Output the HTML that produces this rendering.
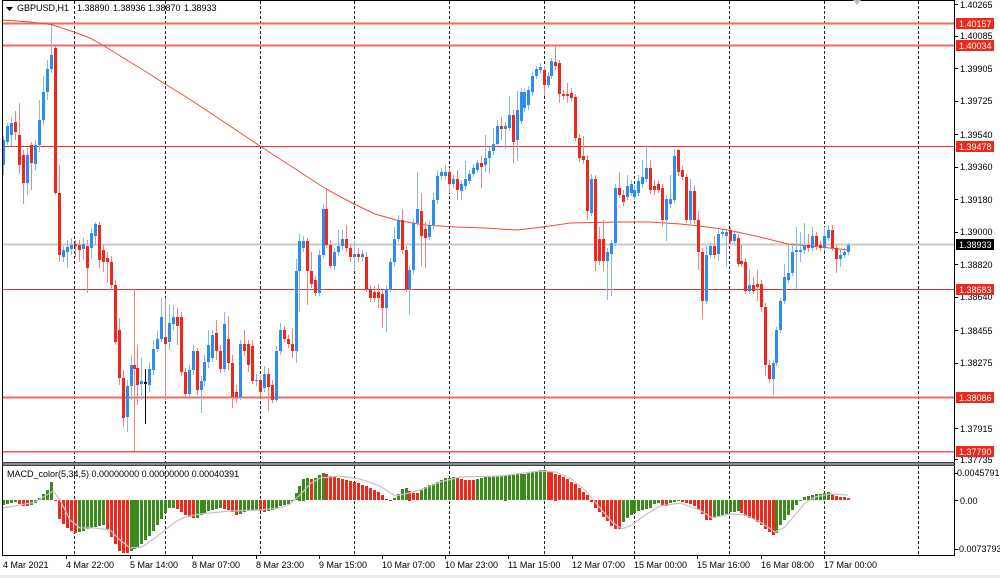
<!DOCTYPE html>
<html><head><meta charset="utf-8">
<style>
html,body{margin:0;padding:0;background:#fff;}
svg{display:block;}
text{font-family:"Liberation Sans",Arial,sans-serif;font-size:9px;fill:#000;}
.w{fill:#fff;}
</style></head><body>
<svg id="c" width="1000" height="578" viewBox="0 0 1000 578" xmlns="http://www.w3.org/2000/svg">
<rect x="0" y="0" width="1000" height="578" fill="#fff"/>
<rect x="0" y="575" width="1000" height="3" fill="#ececec"/>
<defs>
<clipPath id="mainclip"><rect x="3" y="1" width="951" height="461"/></clipPath>
<clipPath id="macdclip"><rect x="3" y="466" width="951" height="89"/></clipPath>
</defs>
<g stroke="#222" stroke-width="1" stroke-dasharray="3,2" shape-rendering="crispEdges">
<line x1="74.5" y1="1" x2="74.5" y2="555"/>
<line x1="165.5" y1="1" x2="165.5" y2="555"/>
<line x1="260.5" y1="1" x2="260.5" y2="555"/>
<line x1="354.5" y1="1" x2="354.5" y2="555"/>
<line x1="449.5" y1="1" x2="449.5" y2="555"/>
<line x1="544.5" y1="1" x2="544.5" y2="555"/>
<line x1="634.5" y1="1" x2="634.5" y2="555"/>
<line x1="729.5" y1="1" x2="729.5" y2="555"/>
<line x1="824.5" y1="1" x2="824.5" y2="555"/>
<line x1="918.5" y1="1" x2="918.5" y2="555"/>
</g>
<g shape-rendering="crispEdges">
<line x1="3" y1="23.5" x2="954" y2="23.5" stroke="#f26a5e" stroke-width="2"/>
<line x1="3" y1="45.5" x2="954" y2="45.5" stroke="#f26a5e" stroke-width="2"/>
<line x1="3" y1="146.5" x2="954" y2="146.5" stroke="#ee3226" stroke-width="1"/>
<line x1="3" y1="244.5" x2="954" y2="244.5" stroke="#c8c8c8" stroke-width="2"/>
<line x1="3" y1="289.5" x2="954" y2="289.5" stroke="#ee3226" stroke-width="1"/>
<line x1="3" y1="397.5" x2="954" y2="397.5" stroke="#f26a5e" stroke-width="2"/>
<line x1="3" y1="451.5" x2="954" y2="451.5" stroke="#f0554a" stroke-width="1.5"/>
</g>
<polyline fill="none" stroke="#f04a3c" stroke-width="1" points="3,20 30,22 51,24.5 74,32 90,38 104,46 117,54 130,62 148,73 165,84 183,95 200,106 215,116 230,126 245,136 260,146 280,159 300,172 326,189 354,204 375,214 398,220.5 425,225 455,227 485,228 517,230 543,227 570,223 617,222 650,222 680,224 700,226 728,230 760,237 788,244 820,247 848,250"/>
<g id="cg" clip-path="url(#mainclip)"></g>
<g id="mg" clip-path="url(#macdclip)"></g>
<g shape-rendering="crispEdges" fill="none">
<rect x="2" y="462" width="953" height="4" fill="#8a8a8a" stroke="none"/>
<line x1="2" y1="0.5" x2="954" y2="0.5" stroke="#000"/>
<line x1="2.5" y1="0" x2="2.5" y2="556" stroke="#000"/>
<line x1="954.5" y1="0" x2="954.5" y2="556" stroke="#000"/>
<line x1="2" y1="555.5" x2="955" y2="555.5" stroke="#000"/>
<line x1="2" y1="462.5" x2="955" y2="462.5" stroke="#444"/>
<line x1="2" y1="465.5" x2="955" y2="465.5" stroke="#444"/>
</g>
<polygon points="853,0 861,0 857,5" fill="#bdbdbd"/>
<polygon points="6,7 13,7 9.5,11" fill="#000"/>
<text x="17" y="11">GBPUSD,H1</text>
<text x="77" y="11">1.38890</text>
<text x="113" y="11">1.38936</text>
<text x="148" y="11">1.38870</text>
<text x="184" y="11">1.38933</text>
<text x="7" y="477">MACD_color(5,34,5) 0.00000000 0.00000000 0.00040391</text>
<g stroke="#000" shape-rendering="crispEdges">
<line x1="955" y1="4.5" x2="958" y2="4.5"/>
<line x1="955" y1="36.5" x2="958" y2="36.5"/>
<line x1="955" y1="68.5" x2="958" y2="68.5"/>
<line x1="955" y1="101.5" x2="958" y2="101.5"/>
<line x1="955" y1="134.5" x2="958" y2="134.5"/>
<line x1="955" y1="167.5" x2="958" y2="167.5"/>
<line x1="955" y1="199.5" x2="958" y2="199.5"/>
<line x1="955" y1="232.5" x2="958" y2="232.5"/>
<line x1="955" y1="264.5" x2="958" y2="264.5"/>
<line x1="955" y1="297.5" x2="958" y2="297.5"/>
<line x1="955" y1="330.5" x2="958" y2="330.5"/>
<line x1="955" y1="363.5" x2="958" y2="363.5"/>
<line x1="955" y1="428.5" x2="958" y2="428.5"/>
<line x1="955" y1="459.5" x2="958" y2="459.5"/>
<line x1="955" y1="473.5" x2="958" y2="473.5"/>
<line x1="955" y1="500.5" x2="958" y2="500.5"/>
<line x1="955" y1="549.5" x2="958" y2="549.5"/>
</g>
<g>
<text x="960" y="8">1.40265</text>
<text x="960" y="39">1.40085</text>
<text x="960" y="72">1.39905</text>
<text x="960" y="104">1.39725</text>
<text x="960" y="138">1.39540</text>
<text x="960" y="170">1.39360</text>
<text x="960" y="203">1.39180</text>
<text x="960" y="235">1.39000</text>
<text x="960" y="268">1.38820</text>
<text x="960" y="300">1.38640</text>
<text x="960" y="334">1.38455</text>
<text x="960" y="366">1.38275</text>
<text x="960" y="432">1.37915</text>
<text x="960" y="463">1.37735</text>
<text x="957" y="476">0.0045791</text>
<text x="960" y="504">0.00</text>
<text x="956" y="552">-0.0073793</text>
</g>
<g>
<rect x="956" y="18" width="38" height="11" fill="#f0281c"/><text class="w" x="959" y="27">1.40157</text>
<rect x="956" y="40" width="38" height="11" fill="#f0281c"/><text class="w" x="959" y="49">1.40034</text>
<rect x="956" y="141" width="38" height="11" fill="#f0281c"/><text class="w" x="959" y="150">1.39478</text>
<rect x="956" y="239" width="38" height="11" fill="#000"/><text class="w" x="959" y="248">1.38933</text>
<rect x="956" y="284" width="38" height="11" fill="#f0281c"/><text class="w" x="959" y="293">1.38683</text>
<rect x="956" y="392" width="38" height="11" fill="#f0281c"/><text class="w" x="959" y="401">1.38086</text>
<rect x="956" y="446" width="38" height="11" fill="#f0281c"/><text class="w" x="959" y="455">1.37790</text>
</g>
<g stroke="#000" shape-rendering="crispEdges">
<line x1="66.5" y1="556" x2="66.5" y2="559"/>
<line x1="130.5" y1="556" x2="130.5" y2="559"/>
<line x1="192.5" y1="556" x2="192.5" y2="559"/>
<line x1="256.5" y1="556" x2="256.5" y2="559"/>
<line x1="319.5" y1="556" x2="319.5" y2="559"/>
<line x1="382.5" y1="556" x2="382.5" y2="559"/>
<line x1="445.5" y1="556" x2="445.5" y2="559"/>
<line x1="508.5" y1="556" x2="508.5" y2="559"/>
<line x1="572.5" y1="556" x2="572.5" y2="559"/>
<line x1="634.5" y1="556" x2="634.5" y2="559"/>
<line x1="697.5" y1="556" x2="697.5" y2="559"/>
<line x1="761.5" y1="556" x2="761.5" y2="559"/>
<line x1="824.5" y1="556" x2="824.5" y2="559"/>
</g>
<g>
<text x="3" y="568">4 Mar 2021</text>
<text x="66" y="568">4 Mar 22:00</text>
<text x="130" y="568">5 Mar 14:00</text>
<text x="192" y="568">8 Mar 07:00</text>
<text x="256" y="568">8 Mar 23:00</text>
<text x="319" y="568">9 Mar 15:00</text>
<text x="382" y="568">10 Mar 07:00</text>
<text x="445" y="568">10 Mar 23:00</text>
<text x="508" y="568">11 Mar 15:00</text>
<text x="572" y="568">12 Mar 07:00</text>
<text x="634" y="568">15 Mar 00:00</text>
<text x="697" y="568">15 Mar 16:00</text>
<text x="761" y="568">16 Mar 08:00</text>
<text x="824" y="568">17 Mar 00:00</text>
</g>
</svg>
<script>
var D=[
[3,0,140,165,136,175],[7,0,126,142,123,145],[11,0,123,135,117,146],[15,1,122,132,111,140],[19,1,135,165,103,174],[23,1,155,183,150,204],[27,0,155,183,148,195],[31,1,145,163,142,190],[35,0,145,164,140,170],[39,0,120,145,100,152],[43,0,92,120,76,125],[47,0,69,92,60,100],[51,0,55,69,25,73],[55,1,48,193,46,195],[59,1,193,255,165,262],[63,0,250,257,246,262],[67,0,247,252,240,268],[71,0,245,249,238,255],[75,1,244,246,240,257],[79,1,245,250,240,262],[83,0,244,249,238,260],[87,1,246,268,240,293],[91,0,233,248,228,258],[95,0,224,236,222,245],[99,1,225,260,222,268],[103,1,250,262,245,272],[107,1,258,262,252,283],[111,1,262,285,256,290],[115,1,285,342,280,345],[119,1,330,378,318,385],[123,1,378,418,370,427],[127,0,386,417,380,432],[131,0,365,386,355,400],[134,1,365,369,289,451],[137,1,368,385,345,405],[141,0,381,384,358,400],[145,2,382,384,369,424],[149,0,369,385,362,392],[153,0,349,370,340,375],[157,0,339,349,330,352],[161,0,317,339,298,342],[165,1,337,344,298,400],[169,0,323,342,305,350],[173,0,317,324,305,330],[177,1,317,326,308,345],[181,1,317,372,312,376],[185,1,372,394,368,397],[189,0,370,394,365,397],[193,0,351,370,345,375],[197,1,351,390,348,395],[201,0,381,390,376,413],[204,0,362,381,355,386],[208,0,345,362,330,368],[212,0,335,358,330,362],[216,1,333,351,320,360],[220,1,351,369,345,373],
[224,0,324,369,312,372],[228,1,339,363,316,370],[232,1,363,397,355,408],[236,1,392,397,385,403],[240,0,344,397,340,400],[244,1,344,351,330,356],[248,1,344,365,340,372],[252,1,346,381,340,384],[256,0,380,381,374,386],[260,1,380,392,375,396],[264,0,374,388,366,392],[268,1,374,387,368,411],[272,1,385,400,380,403],[276,0,351,400,346,402],[280,0,330,351,323,355],[284,1,330,339,326,342],[288,1,339,344,335,348],[292,1,344,351,328,358],[296,0,271,351,259,363],[299,0,241,271,234,312],[303,0,241,248,236,252],[307,1,241,271,238,305],[311,1,271,284,252,288],[315,1,280,293,276,296],[319,0,255,293,250,296],[323,0,209,255,204,258],[326,1,209,245,188,248],[330,1,245,266,240,268],[334,0,252,266,248,270],[338,0,246,252,230,256],[342,0,239,246,230,250],[346,1,239,248,225,252],[350,1,248,257,244,262],[354,0,254,257,241,270],[358,1,254,257,248,262],[362,0,254,257,250,262],[366,1,257,289,252,292],[370,1,289,298,285,302],[374,1,292,298,286,302],[378,1,292,298,284,308],[382,1,294,308,290,328],[386,0,289,308,285,332],[390,0,262,289,258,292],[394,0,239,262,227,266],[398,0,220,239,215,242],[402,1,220,250,209,254],[406,1,250,289,246,292],[409,0,270,289,266,314],[413,0,223,270,219,274],[417,0,209,223,172,226],[421,1,211,236,193,266],[425,1,229,238,222,268],[429,0,225,237,220,240],[433,0,200,225,193,230],[437,0,176,200,170,204],[441,0,172,176,168,180],[445,0,172,176,165,180],[449,1,172,184,168,193],
[453,0,179,184,175,188],[457,1,179,190,170,200],[461,0,184,191,180,200],[465,0,179,186,161,190],[469,0,174,181,170,184],[473,0,168,174,164,177],[477,0,163,170,160,173],[481,1,163,167,156,188],[485,0,158,165,135,172],[489,0,151,158,147,174],[493,0,144,151,128,155],[497,0,126,144,120,147],[501,1,126,129,117,140],[505,0,126,129,122,149],[509,0,115,128,96,131],[513,1,115,142,110,163],[517,0,110,140,91,161],[521,0,92,121,88,124],[524,0,92,108,88,112],[528,0,90,105,86,110],[532,0,76,92,72,96],[536,0,69,76,66,79],[540,0,67,70,63,74],[544,1,70,85,66,96],[548,0,76,85,72,88],[551,0,61,76,58,79],[555,1,62,66,46,70],[559,1,63,94,60,103],[563,1,94,96,90,100],[567,1,94,96,83,103],[571,1,93,98,88,101],[575,1,97,138,94,141],[579,1,138,158,134,162],[583,1,156,160,136,164],[587,1,160,211,155,220],[591,0,179,213,174,216],[595,1,179,261,175,271],[599,1,239,261,227,265],[603,1,239,261,220,271],[607,0,252,261,248,300],[611,0,243,254,240,296],[615,0,188,243,184,246],[619,1,188,195,172,198],[623,1,195,202,190,206],[627,0,186,197,175,200],[631,0,184,193,180,196],[634,0,190,197,185,200],[638,0,181,193,175,196],[642,0,177,184,160,188],[646,0,168,179,145,182],[650,1,168,190,160,194],[654,1,186,190,180,195],[658,1,184,190,180,193],[662,1,188,220,184,227],[666,0,199,220,195,241],[670,0,199,204,175,208],[674,0,156,200,149,203],
[678,1,150,172,149,176],[682,1,170,177,166,180],[686,1,177,220,174,223],[690,0,191,220,179,224],[694,1,191,220,186,224],[698,1,220,252,211,270],[702,1,252,301,248,319],[706,0,255,301,246,304],[710,0,246,255,243,258],[714,1,246,255,236,259],[718,0,234,254,230,261],[722,0,232,234,230,237],[726,0,232,236,230,266],[730,1,230,241,228,244],[734,0,234,241,232,244],[738,1,238,264,234,267],[741,1,261,264,245,267],[745,1,262,291,258,294],[749,0,285,291,270,294],[753,1,285,291,277,294],[757,1,284,287,270,301],[761,1,284,307,280,312],[765,1,307,365,303,376],[769,1,365,379,360,383],[773,0,363,379,360,395],[776,0,330,363,327,366],[780,0,301,330,298,333],[784,0,277,301,264,304],[788,0,273,280,245,283],[792,0,252,273,243,276],[796,0,250,252,227,289],[800,0,250,252,232,262],[804,0,246,250,223,254],[808,1,245,248,234,252],[812,0,236,248,227,251],[816,1,236,246,232,250],[820,1,245,248,241,251],[824,0,236,248,227,251],[828,0,230,238,225,241],[832,1,230,248,225,251],[836,1,248,259,245,273],[840,0,255,259,250,267],[844,0,252,255,248,258],[848,0,245,252,243,255]
];
var M=[[3,505],[15,502],[25,507],[35,503],[40,497],[47,490],[51,482],[54,495],[58,518],[65,527],[75,533],[85,530],[95,527],[105,525],[110,535],[118,550],[125,554],[130,552],[140,545],[150,535],[160,520],[168,508],[175,508],[185,515],[195,519],[205,512],[220,508],[230,510],[237,516],[245,511],[255,510],[262,512],[272,510],[280,506],[290,503],[293,500],[297,491],[301,480],[305,477],[309,479],[313,479],[318,476],[323,473],[330,476],[340,479],[350,481],[360,484],[370,488],[378,492],[385,498],[390,501],[395,497],[402,489],[406,488],[412,493],[418,493],[425,487],[435,483],[445,478],[455,477],[465,480],[475,480],[485,477],[500,476],[520,474],[530,473],[540,470],[545,470],[550,472],[560,475],[568,480],[575,484],[582,491],[588,496],[592,504],[598,511],[606,520],[612,527],[618,531],[622,523],[630,515],[640,510],[650,508],[656,502],[660,504],[666,506],[672,502],[680,501],[688,503],[695,507],[702,514],[707,521],[712,519],[720,516],[730,512],[738,511],[746,517],[755,520],[763,527],[770,533],[775,536],[778,528],[784,520],[790,512],[796,505],[802,498],[810,495],[818,494],[828,492],[836,496],[848,498]];
var S=[[3,508],[20,505],[35,502],[45,496],[53,491],[60,500],[70,520],[80,528],[95,528],[110,530],[120,540],[130,548],[142,547],[155,538],[165,530],[175,522],[185,517],[200,514],[230,511],[260,510],[280,508],[290,504],[300,495],[310,484],[320,478],[340,476],[360,479],[380,486],[395,496],[405,494],[420,490],[440,482],[460,477],[500,476],[540,471],[555,472],[570,478],[585,490],[600,508],[612,522],[622,529],[632,525],[645,515],[660,506],[680,503],[700,510],[712,518],[730,514],[745,515],[760,522],[775,532],[785,527],[795,515],[805,503],[815,497],[830,494],[848,495]];
function ip(P,x){if(x<=P[0][0])return P[0][1];for(var i=1;i<P.length;i++){if(x<=P[i][0]){var a=P[i-1],b=P[i];return a[1]+(b[1]-a[1])*(x-a[0])/(b[0]-a[0]);}}return P[P.length-1][1];}
var ns='http://www.w3.org/2000/svg';
function el(n,a,p){var e=document.createElementNS(ns,n);for(var k in a)e.setAttribute(k,a[k]);p.appendChild(e);return e;}
var g=document.getElementById('cg'),mg=document.getElementById('mg');
var BC=['#2b8cf3','#f0281c','#000'],WC=['#84b8f4','#f3857c','#000'];
D.forEach(function(d){var x=d[0];
el('rect',{x:x,y:d[4],width:1,height:Math.max(1,d[5]-d[4]),fill:WC[d[1]],'shape-rendering':'crispEdges'},g);
el('rect',{x:x-1,y:d[2],width:3,height:Math.max(1,d[3]-d[2]),fill:BC[d[1]],'shape-rendering':'crispEdges'},g);});
var prev=null,col='#3a8a1c';
D.forEach(function(d){var x=d[0],v=ip(M,x);
if(prev!==null){if(v>prev+0.05)col='#f0281c';else if(v<prev-0.05)col='#3a8a1c';}
prev=v;var t=Math.min(v,500),b=Math.max(v,500);var h=Math.max(1,Math.round(b-t));
el('rect',{x:x-1,y:Math.round(t),width:3,height:h,fill:col,'shape-rendering':'crispEdges'},mg);});
var pts=S.map(function(p){return p[0]+','+p[1];}).join(' ');
el('polyline',{points:pts,fill:'none',stroke:'#c4c4c4','stroke-width':1.2},mg);
</script>
</body></html>
